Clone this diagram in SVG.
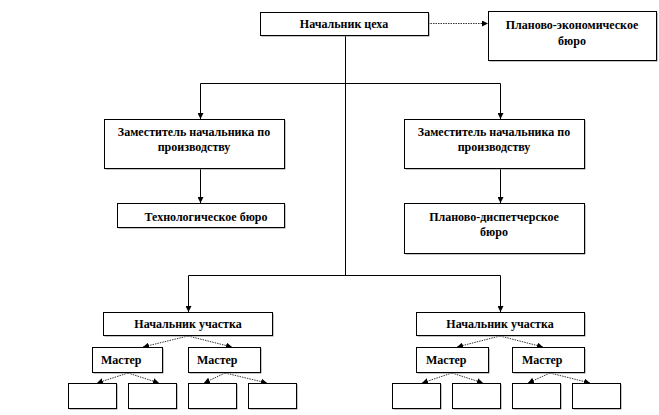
<svg xmlns="http://www.w3.org/2000/svg" width="659" height="415" viewBox="0 0 659 415">
<defs>
<marker id="ah" viewBox="0 0 6 6" refX="6" refY="3" markerWidth="6" markerHeight="6" markerUnits="userSpaceOnUse" orient="auto">
<path d="M0,0 L6,3 L0,6 Z" fill="#000"/>
</marker>
</defs>
<style>
.box{fill:#fff;stroke:#000;stroke-width:1}
.sh{fill:#8a8a8a}
text{font-family:'Liberation Serif','DejaVu Serif',serif;font-weight:bold;font-size:12px;fill:#000}
.c{text-anchor:middle}
.ln{fill:none;stroke:#000;stroke-width:1}
.ar{fill:none;stroke:#000;stroke-width:1;marker-end:url(#ah)}
.da{fill:none;stroke:#000;stroke-width:0.8;stroke-dasharray:1.5 1;marker-end:url(#ah)}
</style>
<rect width="659" height="415" fill="#fff"/>
<g id="connectors">
<line class="da" x1="428" y1="23.5" x2="488" y2="23.5"/>
<line class="ln" x1="345.5" y1="35" x2="345.5" y2="275.5"/>
<line class="ln" x1="200.5" y1="83.5" x2="500.5" y2="83.5"/>
<line class="ar" x1="200.5" y1="83.5" x2="200.5" y2="119"/>
<line class="ar" x1="500.5" y1="83.5" x2="500.5" y2="119"/>
<line class="ar" x1="200.5" y1="168" x2="200.5" y2="203"/>
<line class="ar" x1="500.5" y1="168" x2="500.5" y2="203"/>
<line class="ln" x1="188.5" y1="275.5" x2="500.5" y2="275.5"/>
<line class="ar" x1="188.5" y1="275.5" x2="188.5" y2="312"/>
<line class="ar" x1="500.5" y1="275.5" x2="500.5" y2="312"/>
<line class="da" x1="188" y1="336" x2="143" y2="347"/>
<line class="da" x1="188" y1="336" x2="232" y2="347"/>
<line class="da" x1="128" y1="373" x2="97" y2="383"/>
<line class="da" x1="128" y1="373" x2="159" y2="383"/>
<line class="da" x1="225" y1="373" x2="204" y2="383"/>
<line class="da" x1="225" y1="373" x2="267" y2="383"/>
<line class="da" x1="500" y1="336" x2="457" y2="347"/>
<line class="da" x1="500" y1="336" x2="543" y2="347"/>
<line class="da" x1="452" y1="373" x2="422" y2="383"/>
<line class="da" x1="452" y1="373" x2="483" y2="383"/>
<line class="da" x1="550" y1="373" x2="528" y2="383"/>
<line class="da" x1="550" y1="373" x2="590" y2="383"/>
</g>
<g id="n-head">
<rect class="sh" x="261.5" y="13.5" width="168" height="23"/>
<rect class="box" x="260.5" y="12.5" width="168" height="23"/>
<text class="c" x="344" y="28">Начальник цеха</text>
</g>
<g id="n-peb">
<rect class="sh" x="489.5" y="12.5" width="168" height="49"/>
<rect class="box" x="488.5" y="11.5" width="168" height="49"/>
<text class="c" x="572" y="29">Планово-экономическое</text>
<text class="c" x="572" y="45">бюро</text>
</g>
<g id="n-dep1">
<rect class="sh" x="105.5" y="120.5" width="180" height="49"/>
<rect class="box" x="104.5" y="119.5" width="180" height="49"/>
<text class="c" x="194" y="136">Заместитель начальника по</text>
<text class="c" x="194" y="151">производству</text>
</g>
<g id="n-tech">
<rect class="sh" x="118.5" y="204.5" width="167" height="24"/>
<rect class="box" x="117.5" y="203.5" width="167" height="24"/>
<text class="c" x="206" y="221">Технологическое бюро</text>
</g>
<g id="n-dep2">
<rect class="sh" x="405.5" y="120.5" width="180" height="49"/>
<rect class="box" x="404.5" y="119.5" width="180" height="49"/>
<text class="c" x="494" y="136">Заместитель начальника по</text>
<text class="c" x="494" y="151">производству</text>
</g>
<g id="n-pdb">
<rect class="sh" x="405.5" y="204.5" width="180" height="50"/>
<rect class="box" x="404.5" y="203.5" width="180" height="50"/>
<text class="c" x="494" y="221">Планово-диспетчерское</text>
<text class="c" x="494" y="236">бюро</text>
</g>
<g id="n-uch1">
<rect class="sh" x="104.5" y="313.5" width="169" height="23"/>
<rect class="box" x="103.5" y="312.5" width="169" height="23"/>
<text class="c" x="188" y="328">Начальник участка</text>
</g>
<g id="n-uch2">
<rect class="sh" x="417.5" y="313.5" width="168" height="23"/>
<rect class="box" x="416.5" y="312.5" width="168" height="23"/>
<text class="c" x="500" y="328">Начальник участка</text>
</g>
<g id="n-m1">
<rect class="sh" x="93.5" y="348.5" width="70" height="25"/>
<rect class="box" x="92.5" y="347.5" width="70" height="25"/>
<text x="101" y="364">Мастер</text>
</g>
<g id="n-m2">
<rect class="sh" x="189.5" y="348.5" width="72" height="25"/>
<rect class="box" x="188.5" y="347.5" width="72" height="25"/>
<text x="197" y="364">Мастер</text>
</g>
<g id="n-m3">
<rect class="sh" x="417.5" y="348.5" width="72" height="25"/>
<rect class="box" x="416.5" y="347.5" width="72" height="25"/>
<text x="426" y="364">Мастер</text>
</g>
<g id="n-m4">
<rect class="sh" x="513.5" y="348.5" width="72" height="25"/>
<rect class="box" x="512.5" y="347.5" width="72" height="25"/>
<text x="522" y="364">Мастер</text>
</g>
<g id="n-w1"><rect class="sh" x="69.5" y="384.5" width="48" height="25"/><rect class="box" x="68.5" y="383.5" width="48" height="25"/></g>
<g id="n-w2"><rect class="sh" x="129.5" y="384.5" width="48" height="25"/><rect class="box" x="128.5" y="383.5" width="48" height="25"/></g>
<g id="n-w3"><rect class="sh" x="189.5" y="384.5" width="48" height="25"/><rect class="box" x="188.5" y="383.5" width="48" height="25"/></g>
<g id="n-w4"><rect class="sh" x="249.5" y="384.5" width="48" height="25"/><rect class="box" x="248.5" y="383.5" width="48" height="25"/></g>
<g id="n-w5"><rect class="sh" x="393.5" y="384.5" width="48" height="25"/><rect class="box" x="392.5" y="383.5" width="48" height="25"/></g>
<g id="n-w6"><rect class="sh" x="453.5" y="384.5" width="48" height="25"/><rect class="box" x="452.5" y="383.5" width="48" height="25"/></g>
<g id="n-w7"><rect class="sh" x="513.5" y="384.5" width="48" height="25"/><rect class="box" x="512.5" y="383.5" width="48" height="25"/></g>
<g id="n-w8"><rect class="sh" x="573.5" y="384.5" width="48" height="25"/><rect class="box" x="572.5" y="383.5" width="48" height="25"/></g>
</svg>
